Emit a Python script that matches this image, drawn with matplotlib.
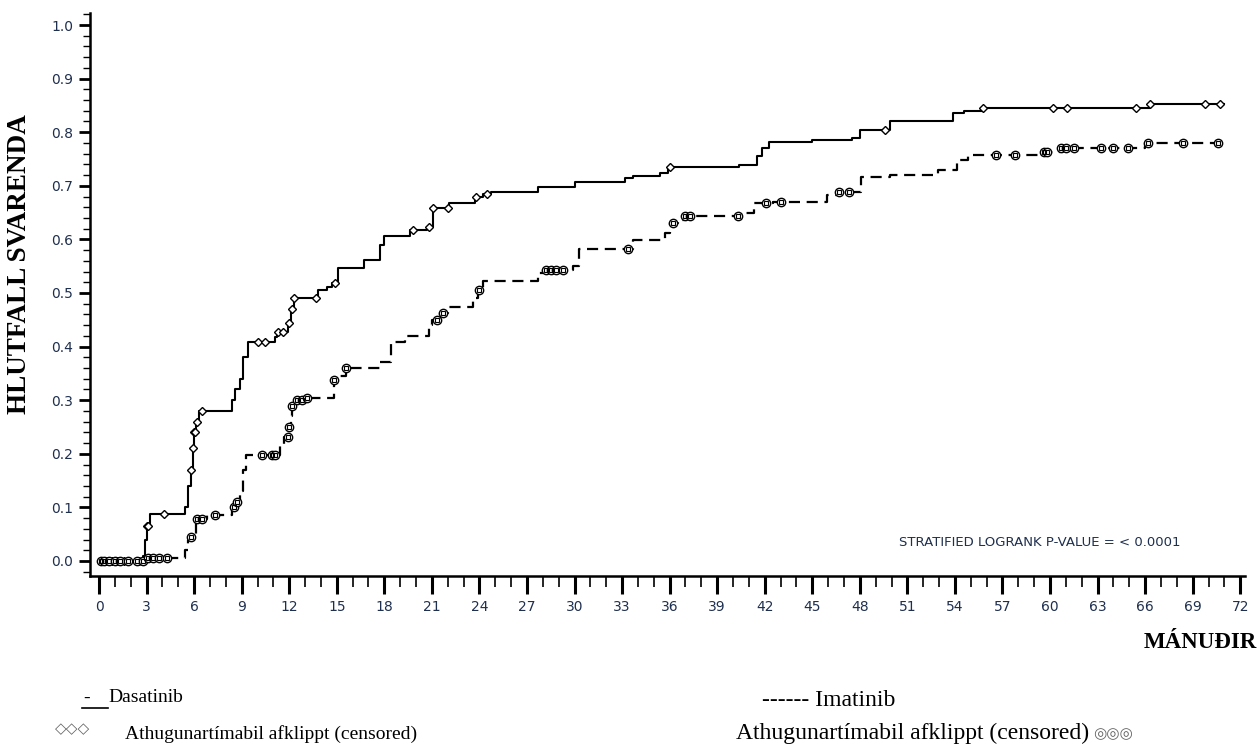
import matplotlib
matplotlib.use("Agg")
import matplotlib.pyplot as plt
from matplotlib.ticker import MultipleLocator
from matplotlib.lines import Line2D
import numpy as np

# --- data (months, cumulative proportion of responders) ---
dasa_t = [0, 2.8, 2.9, 3.0, 3.2, 5.4, 5.6, 5.8, 5.9, 6.0, 6.1, 6.3, 8.4, 8.6, 8.9, 9.1,
          9.4, 11.1, 11.2, 11.9, 12.1, 12.3, 13.8, 14.4, 14.7, 15.1, 16.7, 17.7, 18.0,
          19.6, 20.7, 21.1, 22.1, 23.7, 24.2, 24.7, 27.7, 30.0, 33.2, 33.7, 35.4, 35.9,
          40.4, 41.5, 41.8, 42.3, 45.0, 47.5, 48.0, 49.9, 53.9, 54.6, 55.8, 66.3, 71.0]
dasa_v = [0, 0.01, 0.04, 0.065, 0.087, 0.10, 0.14, 0.17, 0.21, 0.24, 0.26, 0.28, 0.30,
          0.32, 0.34, 0.38, 0.408, 0.418, 0.428, 0.444, 0.47, 0.49, 0.505, 0.511, 0.518,
          0.547, 0.562, 0.59, 0.607, 0.617, 0.623, 0.659, 0.668, 0.68, 0.685, 0.689,
          0.698, 0.707, 0.714, 0.718, 0.724, 0.735, 0.739, 0.755, 0.77, 0.782, 0.786,
          0.79, 0.804, 0.82, 0.835, 0.84, 0.845, 0.853, 0.853]
dasa_cens = [0.1, 0.2, 0.3, 0.5, 0.8, 1.2, 1.6, 2.5, 2.7, 3.0, 3.1, 4.1, 5.8, 5.9, 6.0,
             6.05, 6.2, 6.5, 10.0, 10.5, 11.3, 11.6, 12.0, 12.2, 12.3, 13.7, 14.9, 19.8,
             20.8, 21.1, 22.0, 23.8, 24.5, 36.0, 49.6, 55.8, 60.2, 61.1, 65.4, 66.3,
             69.8, 70.7]

imat_t = [0, 2.9, 5.4, 5.6, 5.8, 6.1, 6.8, 8.4, 8.6, 8.9, 9.1, 9.3, 11.4, 11.7, 12.0,
          12.1, 12.2, 12.5, 13.0, 14.8, 15.0, 15.6, 17.7, 18.4, 19.3, 20.8, 21.0, 21.5,
          22.0, 23.6, 23.9, 24.2, 27.7, 28.0, 29.9, 30.3, 33.7, 35.7, 36.0, 36.5, 36.9,
          40.4, 41.3, 42.5, 45.9, 46.6, 48.1, 49.9, 52.9, 54.1, 54.8, 59.4, 60.6, 66.0,
          71.0]
imat_v = [0, 0.005, 0.02, 0.04, 0.045, 0.078, 0.085, 0.10, 0.11, 0.13, 0.17, 0.198,
          0.215, 0.232, 0.25, 0.27, 0.29, 0.30, 0.305, 0.338, 0.345, 0.36, 0.371, 0.409,
          0.42, 0.44, 0.45, 0.462, 0.474, 0.49, 0.505, 0.522, 0.538, 0.543, 0.55, 0.582,
          0.599, 0.612, 0.63, 0.636, 0.643, 0.649, 0.667, 0.67, 0.683, 0.689, 0.716,
          0.72, 0.73, 0.748, 0.757, 0.763, 0.77, 0.78, 0.78]
imat_cens = [0.1, 0.3, 0.6, 1.0, 1.3, 1.8, 2.4, 2.8, 3.1, 3.4, 3.8, 4.3, 5.8, 6.2, 6.5,
             7.3, 8.5, 8.7, 10.3, 10.9, 11.1, 11.9, 12.0, 12.2, 12.5, 12.8, 13.1, 14.8,
             15.6, 21.3, 21.7, 24.0, 28.2, 28.5, 28.8, 29.3, 33.4, 36.2, 37.0, 37.3,
             40.3, 42.1, 43.0, 46.7, 47.3, 56.6, 57.8, 59.6, 59.8, 60.7, 61.0, 61.5,
             63.2, 64.0, 64.9, 66.2, 68.4, 70.6]

x_ticks = list(range(0, 73, 3))
y_ticks = [0.0, 0.1, 0.2, 0.3, 0.4, 0.5, 0.6, 0.7, 0.8, 0.9, 1.0]


def step_value(times, values, at):
    idx = np.searchsorted(times, at, side="right") - 1
    return np.asarray(values)[idx]


W, H = 1258, 745
fig = plt.figure(figsize=(W / 100, H / 100), dpi=100)
ax = fig.add_axes([90 / W, 1 - 576 / H, 1155 / W, 563 / H])

ax.step(dasa_t, dasa_v, where="post", color="black", lw=1.5)
ax.step(imat_t, imat_v, where="post", color="black", lw=1.6, linestyle=(0, (5, 3)))

ax.plot(dasa_cens, step_value(dasa_t, dasa_v, dasa_cens), linestyle="none", marker="D",
        markersize=4, markerfacecolor="white", markeredgecolor="black", markeredgewidth=1)
ax.plot(imat_cens, step_value(imat_t, imat_v, imat_cens), linestyle="none", marker="o",
        markersize=6, markerfacecolor="white", markeredgecolor="black", markeredgewidth=1)
ax.plot(imat_cens, step_value(imat_t, imat_v, imat_cens), linestyle="none", marker="s",
        markersize=2.6, markerfacecolor="none", markeredgecolor="black", markeredgewidth=0.8)

ax.set_xlim(-0.57, 72.3)
ax.set_ylim(-0.028, 1.0224)
ax.set_xticks(x_ticks)
ax.set_yticks(y_ticks)
ax.set_yticklabels([f"{v:.1f}" for v in y_ticks])
ax.xaxis.set_minor_locator(MultipleLocator(1))
ax.yaxis.set_minor_locator(MultipleLocator(0.02))

for s in ["top", "right"]:
    ax.spines[s].set_visible(False)
for s in ["left", "bottom"]:
    ax.spines[s].set_linewidth(1.8)

tick_color = "#1f2f4f"
ax.tick_params(axis="x", which="major", direction="out", length=13, width=2.2, pad=4,
               labelsize=10, labelcolor=tick_color)
ax.tick_params(axis="x", which="minor", direction="out", length=8, width=1.2)
ax.tick_params(axis="y", which="major", direction="out", length=8, width=2, pad=4,
               labelsize=10, labelcolor=tick_color)
ax.tick_params(axis="y", which="minor", direction="out", length=5, width=1)
for lab in ax.get_xticklabels() + ax.get_yticklabels():
    lab.set_family("DejaVu Sans")

serif = "Liberation Serif"
fig.text(20 / W, 1 - 264 / H, "HLUTFALL SVARENDA", rotation=90, ha="center", va="center",
         family=serif, weight="bold", fontsize=19.5)
fig.text(1257 / W, 1 - 643 / H, "MÁNUÐIR", ha="right", va="center",
         family=serif, weight="bold", fontsize=16.5)
fig.text(1040 / W, 1 - 542 / H, "STRATIFIED LOGRANK P-VALUE = < 0.0001", ha="center",
         va="center", family="DejaVu Sans", fontsize=9.5, color=tick_color)

# legend drawn as free text below the plot
fig.text(83 / W, 1 - 698 / H, "-", ha="left", va="center", family=serif, fontsize=14)
fig.add_artist(Line2D([82 / W, 108 / W], [1 - 708 / H, 1 - 708 / H], color="black", lw=1.2))
fig.text(108 / W, 1 - 698 / H, "Dasatinib", ha="left", va="center", family=serif, fontsize=14)
fig.text(55 / W, 1 - 729 / H, "◇◇◇", ha="left", va="center", family="DejaVu Sans",
         fontsize=11, color="#666666")
fig.text(125 / W, 1 - 734 / H, "Athugunartímabil afklippt (censored)", ha="left",
         va="center", family=serif, fontsize=14)

fig.text(762 / W, 1 - 700 / H, "------ Imatinib", ha="left", va="center", family=serif,
         fontsize=17)
t2 = fig.text(736 / W, 1 - 733 / H, "Athugunartímabil afklippt (censored)", ha="left",
              va="center", family=serif, fontsize=17)
ax.annotate("◎◎◎", xy=(1, 0.45), xycoords=t2, xytext=(3, 0), textcoords="offset points",
            ha="left", va="center", family="DejaVu Sans", fontsize=11, color="#666666",
            annotation_clip=False)

fig.savefig("out.png", dpi=100)
